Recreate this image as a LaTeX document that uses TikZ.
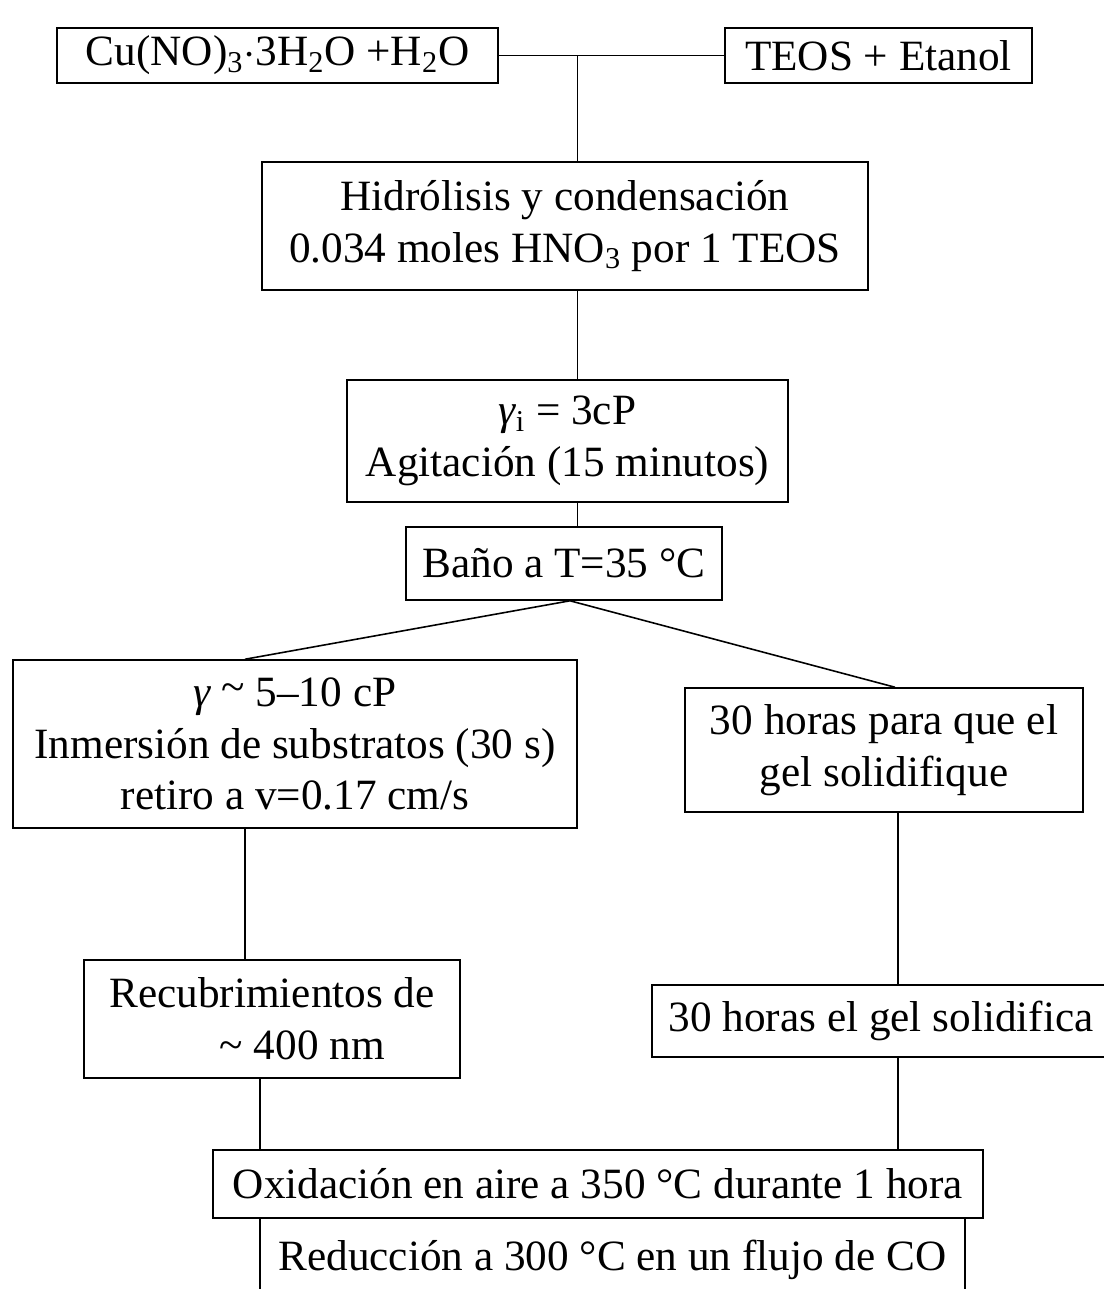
\documentclass[tikz,border=0pt]{standalone}
\usepackage{fontspec}
\setmainfont{Liberation Serif}
\usepackage{tikz}
\usetikzlibrary{positioning,calc}
\tikzset{
  stepbox/.style={draw, line width=0.9pt, align=center, inner sep=2pt, font=\fontsize{24.6}{29.5}\selectfont},
  link/.style={line width=0.9pt}
}

\begin{document}
\begin{tikzpicture}[x=0.02cm, y=-0.02cm]
  \useasboundingbox (0,0) rectangle (1104,1289);
  \clip (0,0) rectangle (1104,1289);
  \node[stepbox, minimum width=8.82cm, minimum height=1.10cm] (cu) at (277.5,55.5) {Cu(NO)\textsubscript{3}$\cdot$3H\textsubscript{2}O +H\textsubscript{2}O};
  \node[stepbox, minimum width=6.14cm, minimum height=1.10cm] (teos) at (878.5,55.5) {TEOS + Etanol};
  \node[stepbox, minimum width=12.12cm, minimum height=2.56cm] (hidro) at (565,226) {Hidrólisis y condensación\\0.034 moles HNO\textsubscript{3} por 1 TEOS};
  \node[stepbox, minimum width=8.82cm, minimum height=2.44cm] (gamma) at (567.5,441) {{\itshape γ}\textsubscript{i} = 3cP\\Agitación (15 minutos)};
  \node[stepbox, minimum width=6.32cm, minimum height=1.46cm] (bano) at (564,563.5) {Baño a T=35 °C};
  \node[stepbox, minimum width=11.28cm, minimum height=3.36cm] (inm) at (295,744) {{\itshape γ} \raisebox{0.25ex}{\textasciitilde} 5--10 cP\\Inmersión de substratos (30 s)\\retiro a v=0.17 cm/s};
  \node[stepbox, minimum width=7.96cm, minimum height=2.48cm] (gel1) at (884,750) {30 horas para que el\\gel solidifique};
  \node[stepbox, minimum width=7.52cm, minimum height=2.36cm] (recub) at (272,1019) {Recubrimientos de\\\hspace*{1.4em}\textasciitilde{} 400 nm};
  \node[stepbox, minimum width=9.16cm, minimum height=1.44cm] (gel2) at (881,1021) {30 horas el gel solidifica};
  \node[stepbox, minimum width=15.4cm, minimum height=1.36cm] (oxid) at (598,1184) {Oxidación en aire a 350 °C durante 1 hora};
  \node[stepbox, minimum width=14.1cm, minimum height=1.68cm] (redu) at (612.5,1260) {Reducción a 300 °C en un flujo de CO};

  \coordinate (jtop) at ($(cu.east)!0.35!(teos.west)$);
  \draw[link] (cu.east) -- (teos.west);
  \draw[link] (jtop) -- (jtop |- hidro.north);
  \draw[link] (hidro.south -| jtop) -- (gamma.north -| jtop);
  \draw[link] (gamma.south -| jtop) -- (bano.north -| jtop);
  \draw[link] ([xshift=-1cm]inm.north) -- ([xshift=0.12cm]bano.south) -- ([xshift=0.22cm]gel1.north);
  \draw[link] ([xshift=-1cm]inm.south) -- ([xshift=-1cm]inm.south |- recub.north);
  \draw[link] ([xshift=0.28cm]gel1.south) -- ([xshift=0.28cm]gel1.south |- gel2.north);
  \draw[link] ([xshift=-0.24cm]recub.south) -- ([xshift=-0.24cm]recub.south |- oxid.north);
  \draw[link] ([xshift=0.34cm]gel2.south) -- ([xshift=0.34cm]gel2.south |- oxid.north);
\end{tikzpicture}
\end{document}
